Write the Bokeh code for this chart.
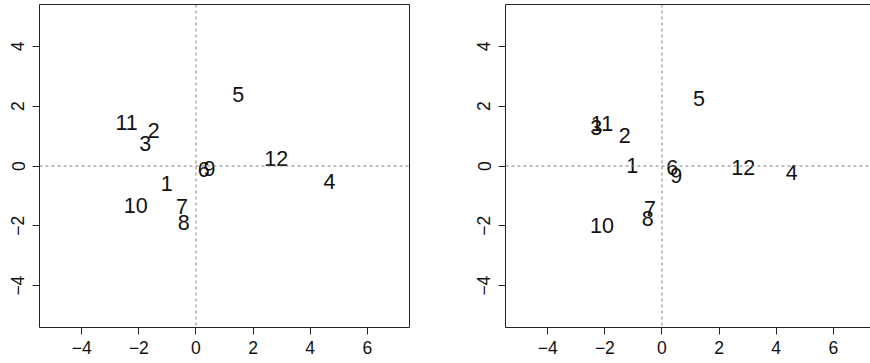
from bokeh.plotting import figure
from bokeh.layouts import row
from bokeh.models import Range1d, Span, FixedTicker, LinearAxis
from bokeh.core.properties import value
from bokeh.embed import file_html
from bokeh.resources import INLINE

# Point labels and their coordinates in the two configurations
labels = ["1", "2", "3", "4", "5", "6", "7", "8", "9", "10", "11", "12"]

left_x = [-1.02, -1.48, -1.78, 4.68, 1.48, 0.27, -0.49, -0.43, 0.47, -2.11, -2.43, 2.81]
left_y = [-0.61, 1.14, 0.73, -0.54, 2.37, -0.15, -1.38, -1.91, -0.12, -1.34, 1.42, 0.21]

right_x = [-1.04, -1.30, -2.30, 4.55, 1.30, 0.36, -0.42, -0.50, 0.50, -2.10, -2.10, 2.85]
right_y = [-0.03, 1.00, 1.25, -0.26, 2.23, -0.09, -1.45, -1.79, -0.34, -2.01, 1.40, -0.09]

x_ticks = [-4, -2, 0, 2, 4, 6]
y_ticks = [-4, -2, 0, 2, 4]
x_tick_labels = ["\u22124", "\u22122", "0", "2", "4", "6"]
y_tick_labels = ["\u22124", "\u22122", "0", "2", "4"]

FONT = "Liberation Sans"
TICK_FS = "17.5px"
LABEL_FS = "21.5px"
UNIT = 370 / 12.96  # pixels per x unit


def style_axes(p):
    p.xaxis.ticker = FixedTicker(ticks=x_ticks)
    p.yaxis.ticker = FixedTicker(ticks=y_ticks)
    p.xaxis.major_label_overrides = dict(zip(x_ticks, x_tick_labels))
    p.yaxis.major_label_overrides = dict(zip(y_ticks, y_tick_labels))
    for ax in (p.xaxis, p.yaxis):
        ax.major_tick_in = 0
        ax.major_tick_out = 7
        ax.minor_tick_line_color = None
        ax.major_tick_line_color = "#222222"
        ax.major_label_text_font = FONT
        ax.major_label_text_font_size = TICK_FS
        ax.major_label_text_color = "#111111"
    p.xaxis.major_label_standoff = 6
    p.yaxis.major_label_standoff = 8
    p.yaxis.major_label_orientation = "vertical"
    p.xgrid.visible = False
    p.ygrid.visible = False


def make_panel(xs, ys, x_end, frame_w, border_left, border_right, boxed):
    p = figure(width=border_left + frame_w + border_right, height=363,
               x_range=Range1d(-5.48, x_end), y_range=Range1d(-5.4, 5.4),
               output_backend="svg", toolbar_location=None,
               min_border_left=border_left, min_border_right=border_right,
               min_border_top=4, min_border_bottom=36,
               frame_width=frame_w, frame_height=323)
    p.background_fill_color = "white"
    p.border_fill_color = "white"
    style_axes(p)
    if boxed:
        p.outline_line_color = "#222222"
        p.outline_line_width = 1
        p.xaxis.axis_line_color = None
        p.yaxis.axis_line_color = None
    else:
        p.outline_line_color = None
        p.xaxis.axis_line_color = "#222222"
        p.yaxis.axis_line_color = "#222222"
        top = LinearAxis(ticker=FixedTicker(ticks=[]), major_label_text_font_size="0px",
                         major_tick_line_color=None, minor_tick_line_color=None,
                         axis_line_color="#222222")
        p.add_layout(top, "above")

    for dim in ("width", "height"):
        p.add_layout(Span(location=0, dimension=dim, line_color="#7f7f7f",
                          line_width=1, line_dash="3 3"))

    p.text(x=xs, y=ys, text=labels, text_align="center", text_baseline="middle",
           y_offset=-1, text_font=value(FONT), text_font_size=LABEL_FS,
           text_color="#111111")
    return p


p1 = make_panel(left_x, left_y, 7.48, 370, 39, 26, True)
p2 = make_panel(right_x, right_y, -5.48 + 365 / UNIT, 365, 70, 0, False)

layout = row(p1, p2, spacing=0)
open("out.html", "w").write(file_html(layout, INLINE))
